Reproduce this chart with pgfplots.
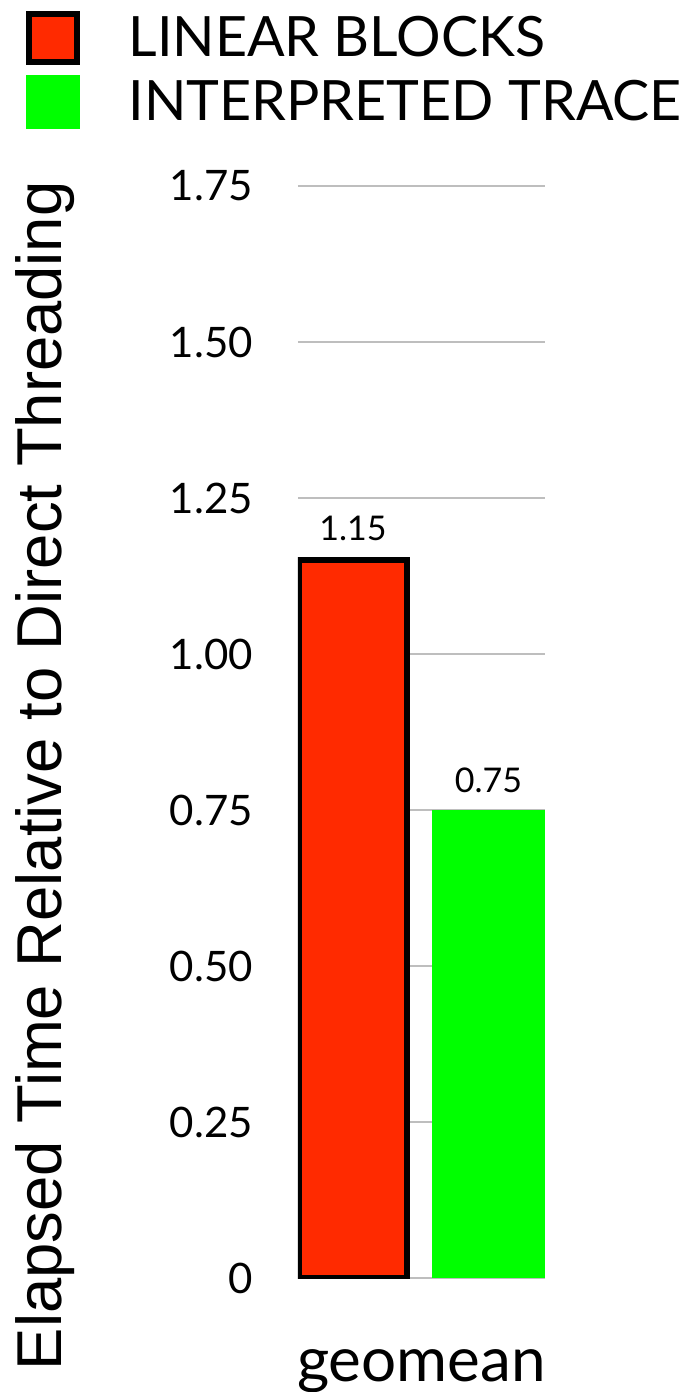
\documentclass[border=0pt]{standalone}
\usepackage{pgfplots}
\pgfplotsset{compat=1.18}
\usepackage{fontspec}
\setmainfont{Lato}
\newfontfamily\labelfont{Liberation Sans}
\definecolor{barred}{RGB}{255,42,0}
\definecolor{bargreen}{RGB}{0,255,0}
\definecolor{gridgray}{RGB}{190,190,190}
% legend swatches: full square, and an inset one for the outlined bar
\pgfplotsset{
  swatch/.style={legend image code/.code={\path[##1] (0pt,-13.5pt) rectangle (27pt,13.5pt);}},
  outlined swatch/.style={legend image code/.code={\path[##1] (1.5pt,-12pt) rectangle (25.5pt,12pt);}},
}
\begin{document}
\begin{tikzpicture}
% fixed page frame
\path[use as bounding box] (0,0) rectangle (343.5pt,696pt);
\begin{axis}[
  at={(149pt,57pt)}, anchor=south west,
  scale only axis,
  width=123.5pt, height=546pt,
  xmin=0, xmax=247,
  ymin=0, ymax=1.75,
  axis line style={draw=none},
  xtick=\empty,
  ytick={0,0.25,0.5,0.75,1,1.25,1.5,1.75},
  yticklabels={0,0.25,0.50,0.75,1.00,1.25,1.50,1.75},
  major tick length=0pt,
  yticklabel style={font=\fontsize{21}{21}\selectfont, anchor=east, xshift=-19pt},
  ymajorgrids,
  grid style={gridgray, line width=1pt},
  xlabel={geomean},
  xlabel style={font=\fontsize{31}{31}\selectfont, yshift=-32pt},
  ylabel={Elapsed Time Relative to Direct Threading},
  every axis y label/.style={at={(rel axis cs:-1.024,0.46)}, rotate=90, anchor=center,
    font=\labelfont\fontsize{31.7}{31.7}\selectfont},
  ybar, bar shift=0pt,
  nodes near coords,
  nodes near coords style={font=\fontsize{17}{17}\selectfont, yshift=5pt},
  point meta=explicit symbolic,
  legend style={at={(rel axis cs:-1.101,1.161)}, anchor=north west, draw=none,
    fill=none, font=\fontsize{27.8}{27.8}\selectfont, legend cell align=left,
    column sep=22pt, row sep=5pt, inner sep=0pt},
]
\addplot[fill=barred, draw=black, line width=3pt, bar width=107, outlined swatch]
  coordinates {(55,1.15) [1.15]};
\addlegendentry{LINEAR BLOCKS}
\addplot[fill=bargreen, draw=none, bar width=113, swatch]
  coordinates {(190.5,0.75) [0.75]};
\addlegendentry{INTERPRETED TRACE}
\end{axis}
\end{tikzpicture}
\end{document}
